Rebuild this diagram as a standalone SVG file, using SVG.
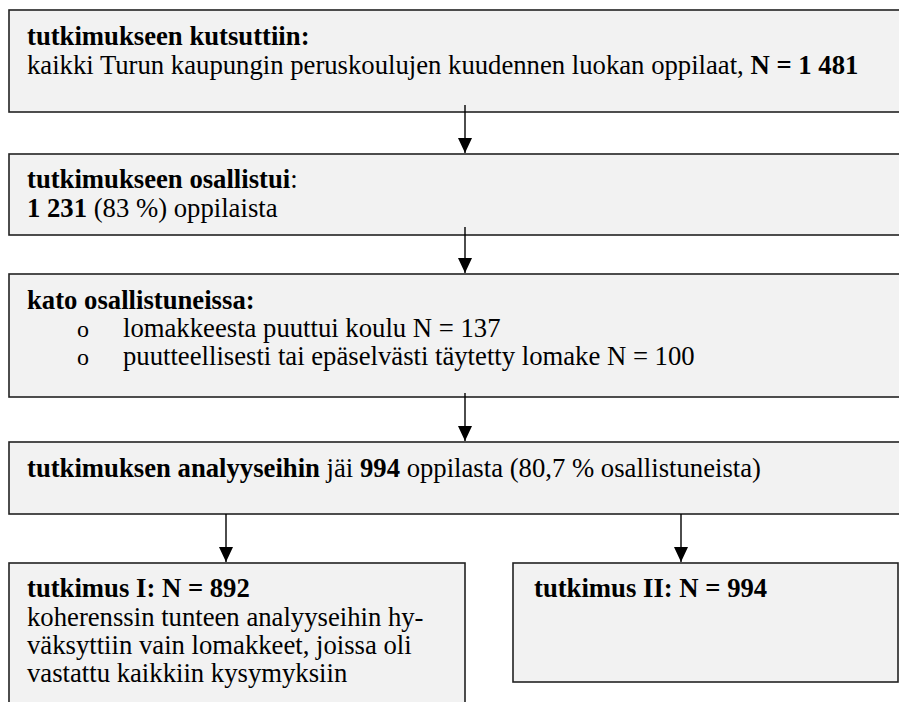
<svg xmlns="http://www.w3.org/2000/svg" width="899" height="702" viewBox="0 0 899 702">
<defs>
<style>
.box{fill:#f2f2f2;stroke:#222;stroke-width:1.6}
.b{font-weight:bold}
.bul{font-size:24px}
.conn line{stroke:#000;stroke-width:1.4}
</style>
<marker id="ah" viewBox="0 0 15 14" markerWidth="15" markerHeight="14" refX="15" refY="7" orient="auto" markerUnits="userSpaceOnUse">
<path d="M0,0 L15,7 L0,14 Z" fill="#000"/>
</marker>
</defs>
<rect width="899" height="702" fill="#fff"/>
<g font-family="'Liberation Serif', 'Times New Roman', serif" font-size="26.7" fill="#000">
<g id="n1">
<rect class="box" x="9" y="10" width="900" height="102"/>
<text x="27" y="45" class="b">tutkimukseen kutsuttiin:</text>
<text x="27" y="74">kaikki Turun kaupungin peruskoulujen kuudennen luokan oppilaat, <tspan class="b">N = 1 481</tspan></text>
</g>
<g id="n2">
<rect class="box" x="9" y="154" width="900" height="81"/>
<text x="27" y="188"><tspan class="b">tutkimukseen osallistui</tspan>:</text>
<text x="27" y="217"><tspan class="b">1 231</tspan> (83 %) oppilaista</text>
</g>
<g id="n3">
<rect class="box" x="9" y="274" width="900" height="123"/>
<text x="27" y="309" class="b">kato osallistuneissa:</text>
<text x="77" y="337" class="bul">o</text>
<text x="123" y="337">lomakkeesta puuttui koulu N = 137</text>
<text x="77" y="365" class="bul">o</text>
<text x="123" y="365">puutteellisesti tai epäselvästi täytetty lomake N = 100</text>
</g>
<g id="n4">
<rect class="box" x="9" y="442" width="900" height="72"/>
<text x="27" y="477"><tspan class="b">tutkimuksen analyyseihin</tspan> jäi <tspan class="b">994</tspan> oppilasta (80,7 % osallistuneista)</text>
</g>
<g id="n5">
<rect class="box" x="9" y="563" width="456" height="160"/>
<text x="27" y="597" class="b">tutkimus I: N = 892</text>
<text x="27" y="626">koherenssin tunteen analyyseihin hy-</text>
<text x="27" y="654">väksyttiin vain lomakkeet, joissa oli</text>
<text x="27" y="682">vastattu kaikkiin kysymyksiin</text>
</g>
<g id="n6">
<rect class="box" x="513" y="563" width="385" height="119"/>
<text x="534" y="597" class="b">tutkimus II: N = 994</text>
</g>
</g>
<g class="conn" id="connectors">
<line x1="465" y1="105" x2="465" y2="153" marker-end="url(#ah)"/>
<line x1="465" y1="227" x2="465" y2="273" marker-end="url(#ah)"/>
<line x1="465" y1="393" x2="465" y2="441" marker-end="url(#ah)"/>
<line x1="226" y1="514" x2="226" y2="562" marker-end="url(#ah)"/>
<line x1="681" y1="514" x2="681" y2="562" marker-end="url(#ah)"/>
</g>
</svg>
